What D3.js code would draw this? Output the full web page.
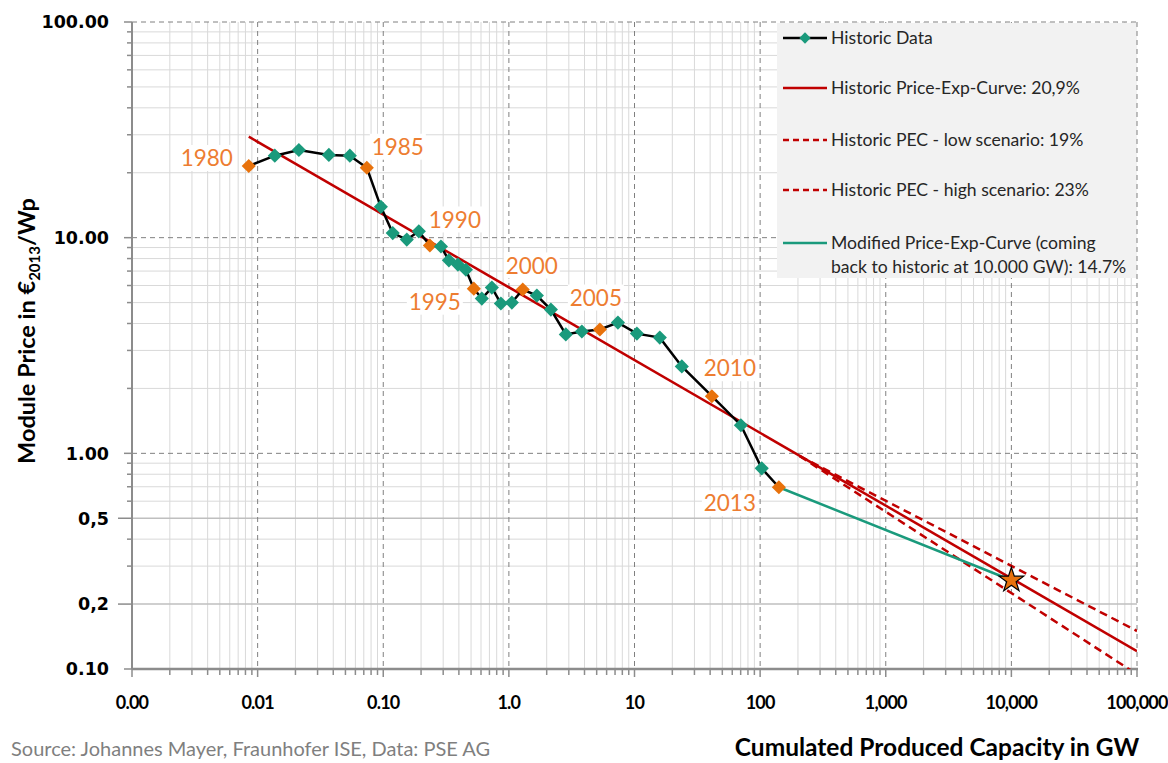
<!DOCTYPE html>
<html><head><meta charset="utf-8">
<script src="https://cdn.jsdelivr.net/npm/d3@7"></script>
<style>body{margin:0;background:#fff}svg{display:block}</style>
</head><body>
<svg id="c" width="1168" height="763"></svg>
<script>
// ---------- DATA ----------
const years = [1980,1981,1982,1983,1984,1985,1986,1987,1988,1989,1990,1991,1992,1993,1994,1995,1996,1997,1998,1999,2000,2001,2002,2003,2004,2005,2006,2007,2008,2009,2010,2011,2012,2013];
const capacityGW = [0.0085,0.0137,0.0213,0.0369,0.0542,0.074,0.0957,0.119,0.154,0.192,0.235,0.288,0.333,0.393,0.455,0.526,0.609,0.732,0.864,1.056,1.29,1.67,2.16,2.84,3.81,5.3,7.38,10.45,15.9,23.8,41.3,70.3,103,141];
const pricePerWp = [21.5,24.0,25.5,24.2,24.0,21.1,13.9,10.5,9.8,10.7,9.2,9.1,7.85,7.5,7.1,5.8,5.22,5.87,4.95,5.0,5.75,5.39,4.64,3.56,3.67,3.75,4.04,3.59,3.44,2.53,1.84,1.35,0.852,0.696];
const labelYears = [1980,1985,1990,1995,2000,2005,2010,2013];
const pecHistoric = [[0.0085,29.4],[100000,0.121]];           // 20.9 %
const pecLow = [[207,0.97],[100000,0.150]];                    // 19 %
const pecHigh = [[207,0.97],[100000,0.0945]];                  // 23 %
const pecModified = [[141,0.696],[10000,0.258]];               // 14.7 %
const targetPoint = [10000,0.258];
const xTickValues = [0.001,0.01,0.1,1,10,100,1000,10000,100000];
const xTickLabels = ["0.00","0.01","0.10","1.0","10","100","1,000","10,000","100,000"];
const yTickValues = [100,10,1,0.5,0.2,0.1];
const yTickLabels = ["100.00","10.00","1.00","0,5","0,2","0.10"];
const legendLabels = ["Historic Data","Historic Price-Exp-Curve: 20,9%","Historic PEC - low scenario: 19%","Historic PEC - high scenario: 23%","Modified Price-Exp-Curve (coming","back to historic at 10.000 GW): 14.7%"];

// ---------- LAYOUT ----------
const L = 132, R = 1137, T = 22, B = 669;
const labelOffset = {1980:[-42,-8],1985:[31,-21],1990:[25,-26],1995:[-39,13],2000:[9,-24],2005:[-4,-32],2010:[18,-28],2013:[-49,16]};
const TEAL = "#1a9a7c", ORANGE = "#e8720c", LBL = "#ed7d31", RED = "#c00000";

const svg = d3.select("#c");
const x = d3.scaleLog().domain([0.001,100000]).range([L,R]);
const y = d3.scaleLog().domain([0.1,100]).range([B,T]);

function minors(lo, hi){ const a=[]; for(let d=lo; d<hi; d*=10) for(let k=2;k<=9;k++) a.push(+(d*k).toPrecision(3)); return a; }
const xMinor = minors(0.001,100000), yMinor = minors(0.1,100);
const xMajor = [0.01,0.1,1,10,100,1000,10000,100000];

const defs = svg.append("defs");
defs.append("clipPath").attr("id","clip").append("rect").attr("x",L).attr("y",T).attr("width",R-L).attr("height",B-T);

const grid = svg.append("g");
grid.selectAll(".vm").data(xMinor).enter().append("line")
  .attr("x1",d=>x(d)).attr("x2",d=>x(d)).attr("y1",T).attr("y2",B)
  .attr("stroke","#d9d9d9").attr("stroke-width",1);
grid.selectAll(".hm").data(yMinor).enter().append("line")
  .attr("x1",L).attr("x2",R).attr("y1",d=>y(d)).attr("y2",d=>y(d))
  .attr("stroke",d=>(d===0.5||d===0.2)?"#bfbfbf":"#d9d9d9").attr("stroke-width",d=>(d===0.5||d===0.2)?1.5:1);
grid.selectAll(".vM").data(xMajor.filter(d=>d<100000)).enter().append("line")
  .attr("x1",d=>x(d)).attr("x2",d=>x(d)).attr("y1",T).attr("y2",B)
  .attr("stroke","#808080").attr("stroke-width",1).attr("stroke-dasharray","5,4");
grid.selectAll(".hM").data([10,1]).enter().append("line")
  .attr("x1",L).attr("x2",R).attr("y1",d=>y(d)).attr("y2",d=>y(d))
  .attr("stroke","#808080").attr("stroke-width",1).attr("stroke-dasharray","5,4");

// legend background
svg.append("rect").attr("x",777).attr("y",T+1).attr("width",R-777).attr("height",255).attr("fill","#f2f2f2");

// border dashed top/right
svg.append("line").attr("x1",L).attr("x2",R).attr("y1",T).attr("y2",T).attr("stroke","#808080").attr("stroke-dasharray","5,4");
svg.append("line").attr("x1",R).attr("x2",R).attr("y1",T).attr("y2",B).attr("stroke","#808080").attr("stroke-dasharray","5,4");

// axes
const axG = svg.append("g").attr("stroke","#8c8c8c");
axG.append("line").attr("x1",L).attr("x2",L).attr("y1",T).attr("y2",B).attr("stroke-width",2);
axG.append("line").attr("x1",L).attr("x2",R+1).attr("y1",B).attr("y2",B).attr("stroke-width",2.5);
axG.selectAll(".yt").data(yMinor.concat([100,10,1,0.1])).enter().append("line")
  .attr("x1",d=>(d===0.5||d===0.2)?118:([100,10,1,0.1].includes(d)?124:127)).attr("x2",L)
  .attr("y1",d=>y(d)).attr("y2",d=>y(d)).attr("stroke-width",1.5);
axG.selectAll(".xt").data(xMinor.concat([0.001],xMajor)).enter().append("line")
  .attr("x1",d=>x(d)).attr("x2",d=>x(d)).attr("y1",B).attr("y2",d=>xTickValues.includes(d)?B+8:B+6).attr("stroke-width",1.5);

// tick labels
svg.append("g").selectAll("text").data(yTickValues).enter().append("text")
  .attr("x",109).attr("y",d=>y(d)).attr("dy","0.36em").attr("text-anchor","end")
  .attr("font-family","DejaVu Sans").attr("font-weight","bold").attr("font-size",17.5).attr("fill","#000")
  .text((d,i)=>yTickLabels[i]);
svg.append("g").selectAll("text").data(xTickValues).enter().append("text")
  .attr("x",d=>x(d)).attr("y",709).attr("text-anchor","middle")
  .attr("font-family","Lato").attr("font-weight","bold").attr("font-size",18).attr("letter-spacing",-0.8).attr("fill","#000")
  .text((d,i)=>xTickLabels[i]);

// titles
const yt = svg.append("text").attr("transform","translate(35,331) rotate(-90)").attr("text-anchor","middle")
  .attr("font-family","Lato").attr("font-weight","bold").attr("font-size",23.5).attr("fill","#000");
yt.append("tspan").text("Module Price in €");
yt.append("tspan").attr("font-size",15).attr("dy",5).text("2013");
yt.append("tspan").attr("dy",-5).text("/Wp");
svg.append("text").attr("x",937).attr("y",756).attr("text-anchor","middle")
  .attr("font-family","Lato").attr("font-weight","bold").attr("font-size",24.5).attr("fill","#000")
  .text("Cumulated Produced Capacity in GW");
svg.append("text").attr("x",11).attr("y",756)
  .attr("font-family","Lato").attr("font-size",20).attr("fill","#7f7f7f")
  .text("Source: Johannes Mayer, Fraunhofer ISE, Data: PSE AG");

// lines
const line = d3.line().x(d=>x(d[0])).y(d=>y(d[1]));
const plot = svg.append("g").attr("clip-path","url(#clip)");
plot.append("path").datum(pecLow).attr("d",line).attr("fill","none").attr("stroke",RED).attr("stroke-width",2.5).attr("stroke-dasharray","8,5");
plot.append("path").datum(pecHigh).attr("d",line).attr("fill","none").attr("stroke",RED).attr("stroke-width",2.5).attr("stroke-dasharray","8,5");
plot.append("path").datum(pecHistoric).attr("d",line).attr("fill","none").attr("stroke",RED).attr("stroke-width",2.5);
plot.append("path").datum(pecModified).attr("d",line).attr("fill","none").attr("stroke",TEAL).attr("stroke-width",2.5);

const hist = years.map((yr,i)=>({yr, c:capacityGW[i], p:pricePerWp[i]}));
plot.append("path").datum(hist).attr("d",d3.line().x(d=>x(d.c)).y(d=>y(d.p))).attr("fill","none").attr("stroke","#000").attr("stroke-width",2.5);

// year labels (white boxes)
const lg = svg.append("g");
hist.filter(d=>labelYears.includes(d.yr)).forEach(d=>{
  const o = labelOffset[d.yr], cx = x(d.c)+o[0], cy = y(d.p)+o[1];
  lg.append("rect").attr("x",cx-28).attr("y",cy-13).attr("width",56).attr("height",26).attr("fill","#fff");
  lg.append("text").attr("x",cx).attr("y",cy).attr("dy","0.36em").attr("text-anchor","middle")
    .attr("font-family","Lato").attr("font-size",22.5).attr("fill",LBL).text(d.yr);
});

plot.selectAll(".pt").data(hist).enter().append("path")
  .attr("d",d3.symbol().type(d3.symbolSquare).size(100))
  .attr("transform",d=>`translate(${x(d.c)},${y(d.p)}) rotate(45)`)
  .attr("fill",d=>labelYears.includes(d.yr)?ORANGE:TEAL);

svg.append("path").attr("d",d3.symbol().type(d3.symbolStar).size(190))
  .attr("transform",`translate(${x(targetPoint[0])},${y(targetPoint[1])})`)
  .attr("fill",ORANGE).attr("stroke","#000").attr("stroke-width",1.2);

// legend
const leg = svg.append("g").attr("font-family","Lato").attr("font-size",17.6).attr("fill","#262626");
const legY = [38,88,140,190,243];
leg.append("line").attr("x1",783).attr("x2",827).attr("y1",legY[0]).attr("y2",legY[0]).attr("stroke","#000").attr("stroke-width",2.5);
leg.append("path").attr("d",d3.symbol().type(d3.symbolSquare).size(64)).attr("transform",`translate(805,${legY[0]}) rotate(45)`).attr("fill",TEAL);
leg.append("line").attr("x1",783).attr("x2",827).attr("y1",legY[1]).attr("y2",legY[1]).attr("stroke",RED).attr("stroke-width",2.5);
leg.append("line").attr("x1",783).attr("x2",827).attr("y1",legY[2]).attr("y2",legY[2]).attr("stroke",RED).attr("stroke-width",2.5).attr("stroke-dasharray","6,4");
leg.append("line").attr("x1",783).attr("x2",827).attr("y1",legY[3]).attr("y2",legY[3]).attr("stroke",RED).attr("stroke-width",2.5).attr("stroke-dasharray","6,4");
leg.append("line").attr("x1",783).attr("x2",827).attr("y1",legY[4]).attr("y2",legY[4]).attr("stroke",TEAL).attr("stroke-width",2.5);
const legTextY = [38,88,140,190,243,267];
legendLabels.forEach((t,i)=>{
  leg.append("text").attr("x",831).attr("y",legTextY[i]).attr("dy","0.35em").text(t);
});
</script>
</body></html>
